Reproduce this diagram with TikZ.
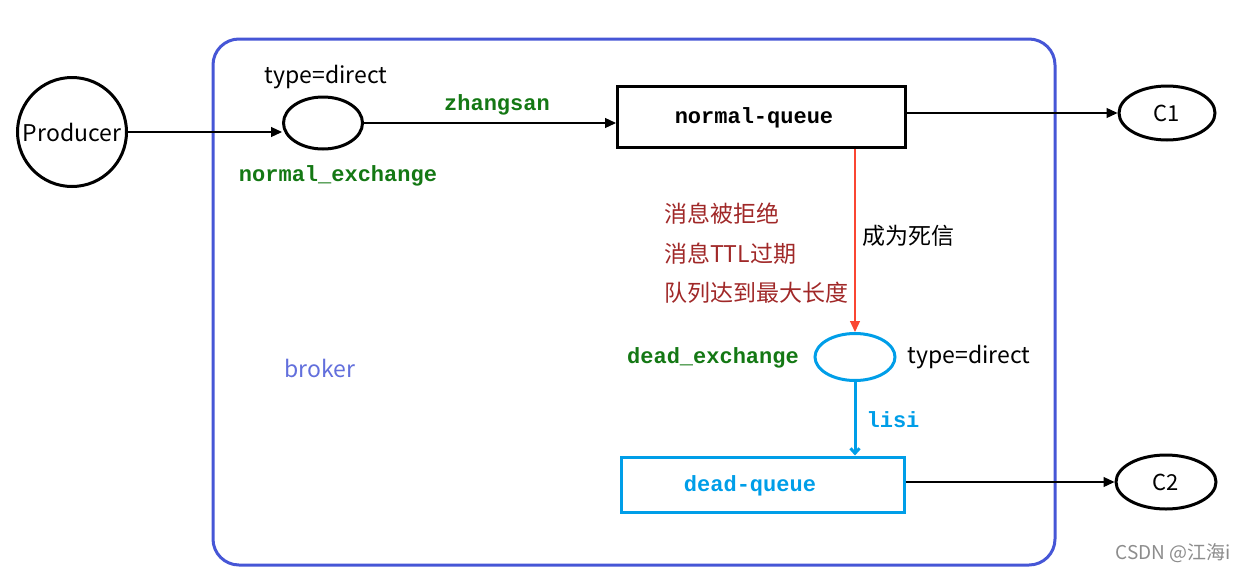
\documentclass[tikz,border=0pt]{standalone}
\usepackage{fontspec}
\setmainfont{Noto Sans CJK SC}
\setmonofont{Liberation Mono}
\usetikzlibrary{shapes.geometric,arrows.meta}
\definecolor{brokerblue}{RGB}{70,86,214}
\definecolor{lblue}{RGB}{0,158,232}
\definecolor{dgreen}{RGB}{20,120,20}
\definecolor{dred}{RGB}{160,40,40}
\definecolor{lred}{RGB}{250,70,50}
\begin{document}
\begin{tikzpicture}[x=1pt,y=-1pt,
  txt/.style={font=\fontsize{23}{26}\selectfont, inner sep=0pt},
  mono/.style={font=\fontsize{22}{25}\selectfont\ttfamily\bfseries, inner sep=0pt},
  thickline/.style={line width=3pt},
  arr/.style={line width=1.2pt,-{Triangle[length=11pt,width=10pt]}},
  ell/.style={ellipse, draw, thickline, inner sep=0pt},
]
\useasboundingbox (0,0) rectangle (1244,573);
% broker
\draw[brokerblue, line width=3pt, rounded corners=26pt] (213,39) rectangle (1055,565);
\node[txt, text=brokerblue!85!white, anchor=center] (broker) at (320,368) {broker};
% producer
\node[circle, draw, thickline, minimum size=109pt, inner sep=0pt, font=\fontsize{23}{26}\selectfont] (prod) at (72,132) {Producer};
% normal exchange
\node[ell, minimum width=79pt, minimum height=52pt] (nex) at (323,123) {};
\node[txt] (t1) at (326,77) {type=direct};
\node[mono, text=dgreen] (nexl) at (338,176) {normal\_exchange};
% normal queue
\node[draw, thickline, minimum width=288pt, minimum height=61pt, inner sep=0pt] (nq) at (761.5,117) {};
\node[mono] (nql) at (754,118) {normal-queue};
\node[mono, text=dgreen] (zs) at (497,105) {zhangsan};
% C1
\node[ell, minimum width=96pt, minimum height=54pt, font=\fontsize{22}{25}\selectfont] (c1) at (1167,113) {C1};
% dead exchange
\node[ell, draw=lblue, minimum width=80pt, minimum height=47pt] (dex) at (855,357) {};
\node[mono, text=dgreen] (dexl) at (713,358) {dead\_exchange};
\node[txt] (t2) at (969,357) {type=direct};
% dead queue
\node[draw=lblue, thickline, minimum width=283pt, minimum height=55pt, inner sep=0pt] (dq) at (762.5,484.5) {};
\node[mono, text=lblue] (dql) at (750,486) {dead-queue};
\node[mono, text=lblue] (lisi) at (893,420) {lisi};
% C2
\node[ell, minimum width=100pt, minimum height=54pt, font=\fontsize{22}{25}\selectfont] (c2) at (1166,482) {C2};
% reasons
\node[txt, text=dred, anchor=west] (r1) at (664,214) {消息被拒绝};
\node[txt, text=dred, anchor=west] (r2) at (664,254) {消息TTL过期};
\node[txt, text=dred, anchor=west] (r3) at (664,293) {队列达到最大长度};
\node[txt, anchor=west] (dl) at (862,236) {成为死信};
% watermark
\node[font=\fontsize{19}{22}\selectfont, text=black!45, inner sep=0pt] (wm) at (1173,553) {CSDN @江海i};
% connectors
\draw[arr] (prod.east |- 0,132) -- (nex.west |- 0,132);
\draw[arr] (nex.east) -- (nex.east -| nq.west);
\draw[arr] (nq.east |- c1) -- (c1.west);
\draw[line width=1.2pt, lred, -{Triangle[length=11pt,width=10pt]}] (dex.north |- nq.south) -- (dex.north);
\draw[line width=3pt, lblue, -{Straight Barb[length=5pt,width=9pt]}] (dex.south) -- (dex.south |- dq.north);
\draw[arr] (dq.east |- c2) -- (c2.west);
\end{tikzpicture}
\end{document}
